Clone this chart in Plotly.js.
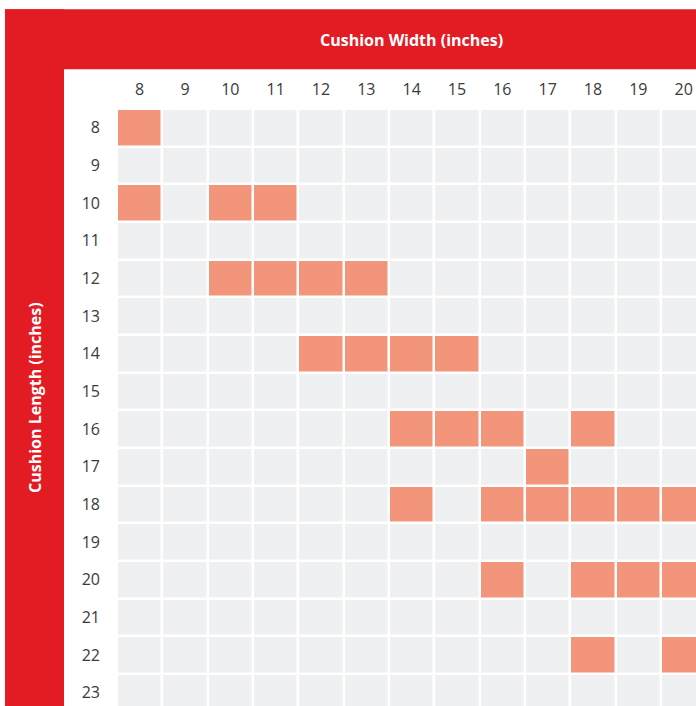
<!DOCTYPE html>
<html>
<head>
<meta charset="utf-8">
<script src="https://cdn.plot.ly/plotly-3.0.1.min.js"></script>
<style>html,body{margin:0;padding:0;background:#fff;}#chart{width:696px;height:706px;}</style>
</head>
<body>
<div id="chart"></div>
<script>
// Axis categories
const widths = [8, 9, 10, 11, 12, 13, 14, 15, 16, 17, 18, 19, 20];
const lengths = [8, 9, 10, 11, 12, 13, 14, 15, 16, 17, 18, 19, 20, 21, 22, 23];
// Available cushion sizes (length, width) pairs
const sizeLengths = [8, 10, 10, 10, 12, 12, 12, 12, 14, 14, 14, 14, 16, 16, 16, 16, 17, 18, 18, 18, 18, 18, 18, 20, 20, 20, 20, 22, 22];
const sizeWidths  = [8, 8, 10, 11, 10, 11, 12, 13, 12, 13, 14, 15, 14, 15, 16, 18, 17, 14, 16, 17, 18, 19, 20, 16, 18, 19, 20, 18, 20];
const xTitle = 'Cushion Width (inches)';
const yTitle = 'Cushion Length (inches)';

const z = lengths.map(() => widths.map(() => 0));
sizeLengths.forEach((L, i) => {
  const r = lengths.indexOf(L), c = widths.indexOf(sizeWidths[i]);
  if (r >= 0 && c >= 0) z[r][c] = 1;
});

const W = 696, H = 706;
const mL = 117, mT = 109;
const pw = W - mL, ph = H - mT;
const px2x = p => (p - mL) / pw;
const py2y = p => (H - p) / ph;
const RED = '#E31C24';
const FONT = '"Open Sans", sans-serif';
const TICKFONT = {family: FONT, size: 16, color: '#3a3a3a', weight: 400};

const trace = {
  type: 'heatmap',
  x: widths, y: lengths, z: z,
  zmin: 0, zmax: 1,
  colorscale: [[0, '#EFF0F2'], [1, '#F2957A']],
  showscale: false,
  xgap: 2.5, ygap: 2.5,
  hoverinfo: 'skip'
};

const layout = {
  width: W, height: H,
  margin: {l: mL, r: 0, t: mT, b: 0, pad: 0},
  paper_bgcolor: '#fff', plot_bgcolor: '#fff',
  font: TICKFONT,
  xaxis: {
    range: [7.5, 7.5 + pw / 45.33], side: 'top', tickvals: widths, ticktext: widths.map(String),
    tickfont: TICKFONT,
    showgrid: false, zeroline: false, showline: false, ticks: '', ticklabelstandoff: 10,
    fixedrange: true
  },
  yaxis: {
    range: [7.5 + ph / 37.67, 7.5], tickvals: lengths, ticktext: lengths.map(String),
    tickfont: TICKFONT,
    showgrid: false, zeroline: false, showline: false, ticks: '', ticklabelstandoff: 16,
    fixedrange: true
  },
  shapes: [
    {type: 'rect', xref: 'paper', yref: 'paper', x0: px2x(5), x1: px2x(W + 2), y0: py2y(69.3), y1: py2y(9.3), fillcolor: RED, line: {width: 0}},
    {type: 'rect', xref: 'paper', yref: 'paper', x0: px2x(5), x1: px2x(64), y0: py2y(H + 2), y1: py2y(9.3), fillcolor: RED, line: {width: 0}}
  ],
  annotations: [
    {text: '<b>' + xTitle + '</b>', xref: 'paper', yref: 'paper', x: px2x(411), y: py2y(40), showarrow: false,
     xanchor: 'center', yanchor: 'middle', font: {family: FONT, size: 16, color: '#fff'}},
    {text: '<b>' + yTitle + '</b>', xref: 'paper', yref: 'paper', x: px2x(35), y: py2y(398), showarrow: false,
     textangle: -90, xanchor: 'center', yanchor: 'middle', font: {family: FONT, size: 16, color: '#fff'}}
  ]
};

Plotly.newPlot('chart', [trace], layout, {displayModeBar: false, staticPlot: true});
</script>
</body>
</html>
